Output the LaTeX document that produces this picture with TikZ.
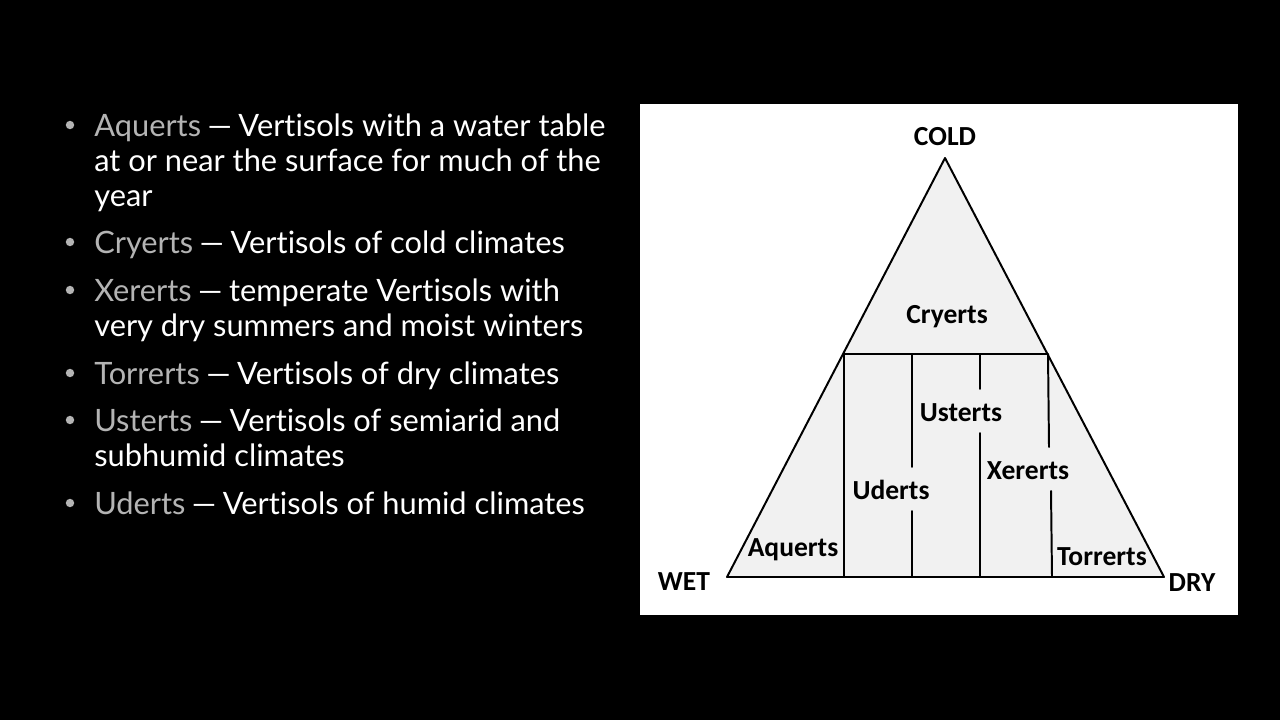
\documentclass[tikz,border=0pt]{standalone}
\usepackage{fontspec, tkz-euclide}
\setmainfont{Lato}[Ligatures=NoCommon]
\newfontfamily\labelfont{Carlito}
\definecolor{wordgray}{HTML}{B4B4B4}
\definecolor{soilfill}{HTML}{F1F1F1}
\tikzset{
  itemtext/.style={anchor=north west, inner sep=0pt, align=left, text=white,
    font=\fontsize{21.9}{24.9}\selectfont},
  itemdot/.style={circle, fill=wordgray, inner sep=0pt, minimum size=6pt},
  soillabel/.style={inner sep=0pt, text=black, font=\labelfont\bfseries\fontsize{19.6}{24}\selectfont},
  soilline/.style={line width=1.4pt, black}
}
\newcommand{\soilword}[1]{\textcolor{wordgray}{#1}\kern-1pt\ —\kern-1pt\ }
\begin{document}
\begin{tikzpicture}[x=0.025cm, y=-0.025cm]
    \fill[black] (0,0) rectangle (1280,720);
    \useasboundingbox (0,0) rectangle (1280,720);
    \fill[white] (640,104) rectangle (1238,615);
    % triangle
    \tkzDefPoints{945/158/T, 727/577/W, 1164/577/D, 844/354/L, 1047/354/R}
    \tkzDefPoints{844/577/La, 912/354/Ua, 912/467/Ub, 912/511/Uc, 912/577/Ud}
    \tkzDefPoints{980/354/Sa, 980/389/Sb, 980/433/Sc, 980/577/Sd}
    \tkzDefPoints{1048/354/Xa, 1049/447/Xb, 1051/491/Xc, 1052/577/Xd}
    \tkzFillPolygon[fill=soilfill](T,W,D)
    \tkzDrawPolygon[soilline](T,W,D)
    \tkzDrawSegments[soilline](L,R L,La Ua,Ub Uc,Ud Sa,Sb Sc,Sd Xa,Xb Xc,Xd)
    % labels
    \node[soillabel] (cold) at (945,137) {COLD};
    \node[soillabel] (wet) at (684,582) {WET};
    \node[soillabel] (dry) at (1192,583) {DRY};
    \node[soillabel] (cryerts) at (947,317) {Cryerts};
    \node[soillabel] (usterts) at (961,413) {Usterts};
    \node[soillabel] (uderts) at (891,490) {Uderts};
    \node[soillabel] (xererts) at (1028,471) {Xererts};
    \node[soillabel] (aquerts) at (793,550) {Aquerts};
    \node[soillabel] (torrerts) at (1102,557) {Torrerts};
    % list
    \node[itemdot] (dota) at (70,125) {};
    \node[itemdot] (dotb) at (70,242) {};
    \node[itemdot] (dotc) at (70,290) {};
    \node[itemdot] (dotd) at (70,373) {};
    \node[itemdot] (dote) at (70,420) {};
    \node[itemdot] (dotf) at (70,503) {};
    \node[itemtext] (itema) at (94,114) {\soilword{Aquerts}Vertisols with a water table\\at or near the surface for much of the\\year};
    \node[itemtext] (itemb) at (94,231) {\soilword{Cryerts}Vertisols of cold climates};
    \node[itemtext] (itemc) at (94,279) {\soilword{Xererts}temperate Vertisols with\\very dry summers and moist winters};
    \node[itemtext] (itemd) at (94,362) {\soilword{Torrerts}Vertisols of dry climates};
    \node[itemtext] (iteme) at (94,409) {\soilword{Usterts}Vertisols of semiarid and\\subhumid climates};
    \node[itemtext] (itemf) at (94,492) {\soilword{Uderts}Vertisols of humid climates};
\end{tikzpicture}
\end{document}
